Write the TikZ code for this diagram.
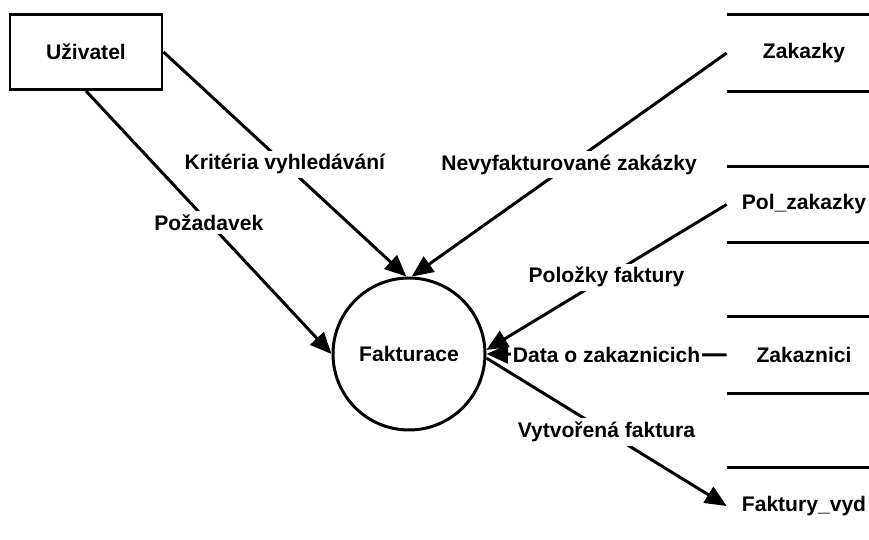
\documentclass[tikz,border=0pt]{standalone}
\usepackage{fontspec}
\setmainfont{Liberation Sans}
\usepackage{tikz}
\usetikzlibrary{shapes.geometric, arrows.meta}
\usetikzlibrary{positioning}
\tikzstyle{flow} = [line width=1.7pt]
\tikzstyle{arrow} = [flow,-{Triangle[length=4.3mm,width=3.7mm]}]
\tikzstyle{txt} = [font=\bfseries\fontsize{12}{14}\selectfont]
\tikzstyle{lbl} = [txt, fill=white, inner sep=2pt]
\tikzstyle{store} = [txt, minimum width=2.84cm, minimum height=1.52cm, inner sep=0pt]

\begin{document}
\begin{tikzpicture}
    \useasboundingbox (0,0) rectangle (17.38,10.8);

    % entity and process
    \node[txt, draw, line width=1.7pt, minimum width=3.04cm, minimum height=1.5cm] (uziv) at (1.72, 9.76) {Uživatel};
    \node[txt, draw, circle, line width=1.7pt, minimum size=3.04cm] (fakt) at (8.18, 3.72) {Fakturace};

    % data stores
    \node[store] (zak)  at (15.96, 9.74) {\hspace{0.24cm}Zakazky};
    \node[store] (pol)  at (15.96, 6.71) {\hspace{0.24cm}Pol\_zakazky};
    \node[store] (zakn) at (15.96, 3.70) {\hspace{0.24cm}Zakaznici};
    \node[store] (fvyd) at (15.96, 0.68) {\hspace{0.24cm}Faktury\_vyd};
    \foreach \s in {zak,pol,zakn}{
        \draw[flow] (\s.north west) -- (\s.north east);
        \draw[flow] (\s.south west) -- (\s.south east);
    }
    \draw[flow] (fvyd.north west) -- (fvyd.north east);

    % flows
    \draw[arrow] (uziv.east) -- node[lbl]{Kritéria vyhledávání} (fakt.92);
    \draw[arrow] (uziv.south) -- node[lbl]{Požadavek} (fakt.west);
    \draw[arrow] (zak.west) -- node[lbl]{Nevyfakturované zakázky} (fakt.88);
    \draw[arrow] (pol.west) -- node[lbl]{Položky faktury} (fakt.3);
    \draw[arrow] (zakn.west) -- node[lbl, inner xsep=1pt]{Data o zakaznicich} (fakt.east);
    \draw[arrow] (fakt.-3) -- node[lbl]{Vytvořená faktura} (fvyd.west);

\end{tikzpicture}
\end{document}
